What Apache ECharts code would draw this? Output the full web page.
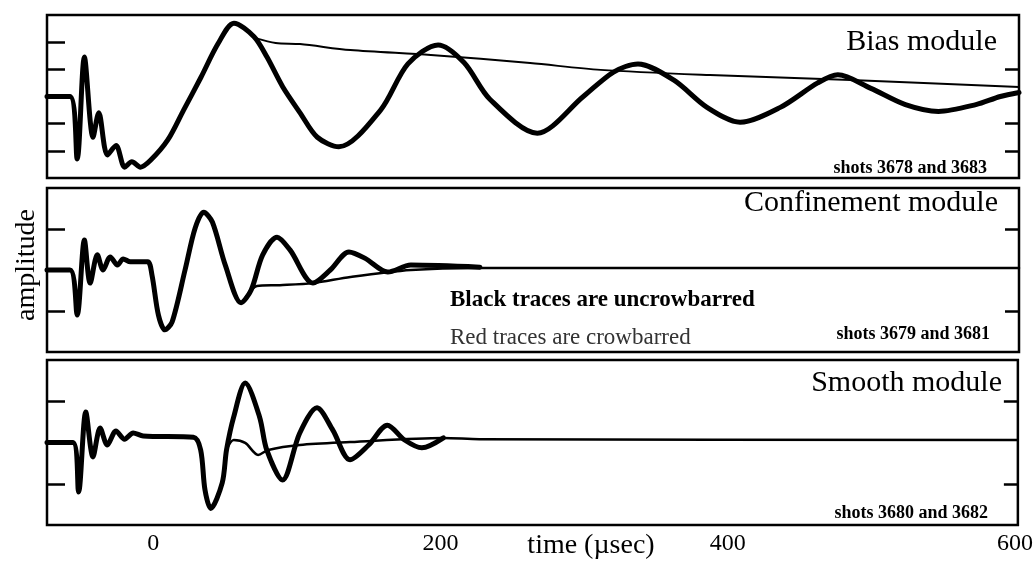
<!DOCTYPE html>
<html>
<head>
<meta charset="utf-8">
<script src="https://cdn.jsdelivr.net/npm/echarts@6/dist/echarts.min.js"></script>
<style>
html, body { margin: 0; padding: 0; background: #fff; }
#container { width: 1036px; height: 571px; }
</style>
</head>
<body>
<div id="container"></div>
<script>
// time axis (usec) and tick labels
var timeMin = -74, timeMax = 602;
var timeLabels = [0, 200, 400, 600];

// Bias module, shots 3678 and 3683
var biasT = [-74, -58, -53, -48, -42, -38, -32, -26, -20, -15, -9, -2, 10, 21, 33, 45, 56, 70, 79, 90, 102, 114, 129, 158, 177, 198, 216, 234, 267, 299, 320, 337, 362, 385, 408, 436, 462, 476, 499, 523, 546, 572, 589, 602];
var biasA = [0, 0, -2.3, 1.45, -1.5, -0.6, -2.15, -1.8, -2.6, -2.4, -2.6, -2.35, -1.6, -0.5, 0.7, 1.95, 2.7, 2.2, 1.45, 0.35, -0.6, -1.5, -1.85, -0.5, 1.2, 1.9, 1.25, -0.1, -1.35, 0, 0.9, 1.2, 0.6, -0.4, -0.95, -0.4, 0.5, 0.8, 0.3, -0.3, -0.55, -0.3, 0, 0.15];
var biasCrowT = [71, 85, 102, 137, 193, 262, 311, 387, 485, 602];
var biasCrowA = [2.15, 1.97, 1.93, 1.71, 1.53, 1.23, 0.98, 0.79, 0.61, 0.35];

// Confinement module, shots 3679 and 3681
var confT = [-74, -58, -53, -48, -44, -39, -35, -30, -25, -21, -16, -4, -1, 3.5, 8, 13, 22, 29, 35, 41, 50, 61, 68, 76, 86, 95, 111, 123, 136, 147, 163, 179, 227];
var confA = [0, 0, -1.1, 0.73, -0.32, 0.37, 0, 0.32, 0.12, 0.27, 0.2, 0.2, -0.12, -1.1, -1.46, -1.27, 0, 1.02, 1.41, 1.17, 0.12, -0.8, -0.49, 0.37, 0.8, 0.49, -0.32, 0, 0.44, 0.29, -0.05, 0.12, 0.07];
var confCrowT = [62, 72, 88, 111, 137, 179, 227, 602];
var confCrowA = [-0.8, -0.39, -0.37, -0.32, -0.17, 0, 0.05, 0.05];

// Smooth module, shots 3680 and 3682
var smoothT = [-74, -56, -52, -47, -42, -37, -32, -26, -20, -14, -7, 28, 33, 36, 40, 48, 51, 56, 64, 74, 79, 90, 102, 114, 125, 137, 150, 163, 175, 187, 202];
var smoothA = [0, 0, -1.2, 0.74, -0.35, 0.35, -0.06, 0.28, 0.08, 0.23, 0.16, 0.13, -0.18, -1.15, -1.6, -0.98, -0.18, 0.62, 1.44, 0.62, -0.18, -0.91, 0.23, 0.84, 0.3, -0.42, -0.06, 0.42, 0.06, -0.13, 0.11];
var smoothCrowT = [51, 56, 64, 73, 80, 102, 137, 202, 227, 602];
var smoothCrowA = [-0.18, 0.06, -0.01, -0.3, -0.18, -0.06, 0.01, 0.11, 0.08, 0.06];

var panelNames = ['Bias module', 'Confinement module', 'Smooth module'];
var shotNames = ['shots 3678 and 3683', 'shots 3679 and 3681', 'shots 3680 and 3682'];

function pairs(t, a) {
    var out = [];
    for (var i = 0; i < t.length; i++) {
        out.push([t[i], a[i]]);
    }
    return out;
}

var serif = '"Liberation Serif", "Times New Roman", serif';
var grids = [
    {left: 47, right: 17, top: 15, height: 163},
    {left: 47, right: 17, top: 188, height: 164},
    {left: 47, right: 17, top: 360, height: 165}
];
var yRange = [3, 2, 2];
var leftTicks = [[-2, -1, 1, 2], [-1, 1], [-1, 1]];
var rightTicks = [[-2, -1, 1], [-1, 1], [-1, 1]];

var myChart = echarts.init(document.getElementById('container'));

var xAxis = [], yAxis = [];
for (var g = 0; g < 3; g++) {
    grids[g].show = true;
    grids[g].borderColor = '#000';
    grids[g].borderWidth = 2.5;
    xAxis.push({
        type: 'value',
        gridIndex: g,
        min: timeMin,
        max: timeMax,
        axisLine: {show: false, onZero: false},
        axisTick: {show: false},
        splitLine: {show: false},
        axisLabel: {
            show: g == 2,
            customValues: timeLabels,
            margin: 7,
            color: '#000',
            fontFamily: serif,
            fontSize: 24
        }
    });
    yAxis.push({
        type: 'value',
        gridIndex: g,
        min: -yRange[g],
        max: yRange[g],
        axisLine: {show: false, onZero: false},
        splitLine: {show: false},
        axisLabel: {show: false},
        axisTick: {
            show: true,
            inside: true,
            length: 18,
            customValues: leftTicks[g],
            lineStyle: {color: '#000', width: 2.5}
        }
    });
    yAxis.push({
        type: 'value',
        gridIndex: g,
        position: 'right',
        min: -yRange[g],
        max: yRange[g],
        axisLine: {show: false, onZero: false},
        splitLine: {show: false},
        axisLabel: {show: false},
        axisTick: {
            show: true,
            inside: true,
            length: 14,
            customValues: rightTicks[g],
            lineStyle: {color: '#000', width: 2.5}
        }
    });
}

var traces = [
    [biasT, biasA, biasCrowT, biasCrowA],
    [confT, confA, confCrowT, confCrowA],
    [smoothT, smoothA, smoothCrowT, smoothCrowA]
];
var series = [];
for (var k = 0; k < 3; k++) {
    series.push({
        name: panelNames[k] + ' uncrowbarred',
        type: 'line',
        xAxisIndex: k,
        yAxisIndex: k * 2,
        showSymbol: false,
        smooth: 0.3,
        lineStyle: {color: '#000', width: 5, cap: 'round', join: 'round'},
        data: pairs(traces[k][0], traces[k][1])
    });
    series.push({
        name: panelNames[k] + ' crowbarred',
        type: 'line',
        xAxisIndex: k,
        yAxisIndex: k * 2,
        showSymbol: false,
        smooth: 0.3,
        lineStyle: {color: '#000', width: k == 0 ? 2 : 2.5, cap: 'round', join: 'round'},
        data: pairs(traces[k][2], traces[k][3])
    });
}

// texts
function txt(s, x, y, size, align, extra) {
    var el = {
        type: 'text',
        x: x,
        y: y,
        silent: true,
        style: {
            text: s,
            font: (extra && extra.weight ? extra.weight + ' ' : '') + size + 'px ' + serif,
            fill: (extra && extra.fill) || '#000',
            align: align,
            verticalAlign: 'middle'
        }
    };
    if (extra && extra.rotation) el.rotation = extra.rotation;
    return el;
}
var titleY = [42, 203, 383];
var titleX = [997, 998, 1002];
var shotY = [168, 334, 513];
var shotX = [987, 990, 988];
var graphic = [];
for (var p = 0; p < 3; p++) {
    graphic.push(txt(panelNames[p], titleX[p], titleY[p], 30, 'right'));
    graphic.push(txt(shotNames[p], shotX[p], shotY[p], 18, 'right', {weight: 'bold'}));
}
graphic.push(txt('Black traces are uncrowbarred', 450, 300, 23, 'left', {weight: 'bold'}));
graphic.push(txt('Red traces are crowbarred', 450, 338, 23, 'left', {fill: '#333'}));
graphic.push(txt('amplitude', 27, 265, 28, 'center', {rotation: Math.PI / 2}));
graphic.push(txt('time (µsec)', 591, 546, 28, 'center'));

var option = {
    animation: false,
    backgroundColor: '#fff',
    grid: grids,
    xAxis: xAxis,
    yAxis: yAxis,
    series: series,
    graphic: graphic
};
myChart.setOption(option);
</script>
</body>
</html>
